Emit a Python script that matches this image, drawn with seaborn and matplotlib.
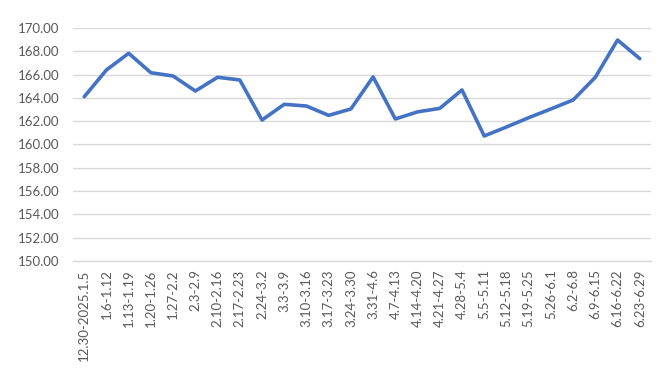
import matplotlib
matplotlib.use("Agg")
import matplotlib.pyplot as plt
import seaborn as sns
import pandas as pd

weeks = ["12.30-2025.1.5", "1.6-1.12", "1.13-1.19", "1.20-1.26", "1.27-2.2",
         "2.3-2.9", "2.10-2.16", "2.17-2.23", "2.24-3.2", "3.3-3.9",
         "3.10-3.16", "3.17-3.23", "3.24-3.30", "3.31-4.6", "4.7-4.13",
         "4.14-4.20", "4.21-4.27", "4.28-5.4", "5.5-5.11", "5.12-5.18",
         "5.19-5.25", "5.26-6.1", "6.2-6.8", "6.9-6.15", "6.16-6.22", "6.23-6.29"]
values = [164.10, 166.40, 167.83, 166.16, 165.88, 164.59, 165.77, 165.54, 162.10, 163.45,
          163.30, 162.50, 163.05, 165.80, 162.19, 162.80, 163.10, 164.68, 160.73, 161.50,
          162.30, 163.05, 163.82, 165.77, 168.97, 167.37]
y_ticks = [150, 152, 154, 156, 158, 160, 162, 164, 166, 168, 170]

df = pd.DataFrame({"week": weeks, "value": values})

sns.set_style("white")
plt.rcParams["font.family"] = ["Lato", "DejaVu Sans"]

fig = plt.figure(figsize=(6.71, 3.76), dpi=100)
ax = fig.add_axes([0.109, 0.306, 0.861, 0.6195])

sns.lineplot(data=df, x="week", y="value", ax=ax, color="#4472C4", linewidth=2.6,
             sort=False)

ax.set_xlim(-0.5, len(weeks) - 0.5)
ax.set_ylim(150, 170)
ax.set_yticks(y_ticks)
ax.set_yticklabels([f"{v:.2f}" for v in y_ticks])
ax.grid(axis="y", color="#d9d9d9", linewidth=1)
ax.set_axisbelow(True)
for s in ["top", "right", "left"]:
    ax.spines[s].set_visible(False)
ax.spines["bottom"].set_color("#d9d9d9")
ax.spines["bottom"].set_linewidth(1)

ax.set_xticks(range(len(weeks)))
ax.set_xticklabels(weeks, rotation=90)
ax.tick_params(axis="both", length=0, colors="#595959", labelsize=9.5)
ax.tick_params(axis="x", pad=6)
ax.tick_params(axis="y", pad=10)
ax.set_xlabel("")
ax.set_ylabel("")

fig.savefig("out.png", dpi=100)
